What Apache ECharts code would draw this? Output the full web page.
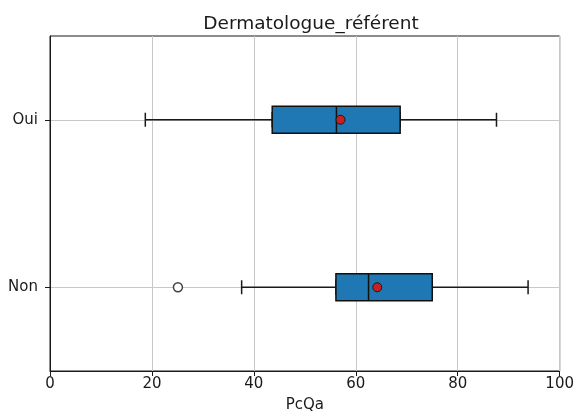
<!DOCTYPE html>
<html>
<head>
<meta charset="utf-8">
<script src="https://cdn.jsdelivr.net/npm/echarts@6/dist/echarts.min.js"></script>
<style>
html,body{margin:0;padding:0;background:#fff;}
#c{width:577px;height:419px;}
</style>
</head>
<body>
<div id="c"></div>
<script>
var categories = ['Non', 'Oui'];
var minVals = [37.6, 18.7];
var q1Vals = [56.1, 43.6];
var medianVals = [62.5, 56.2];
var q3Vals = [75.0, 68.7];
var maxVals = [93.8, 87.6];
var meanVals = [64.2, 57.0];
var outlierCats = ['Non'];
var outlierVals = [25.1];
var xTicks = [0, 20, 40, 60, 80, 100];

var FONT = 'DejaVu Sans';
var chart = echarts.init(document.getElementById('c'), null, {renderer: 'canvas'});

var whiskerData = categories.map(function (c, i) {
  return [minVals[i], q1Vals[i], medianVals[i], q3Vals[i], maxVals[i]];
});
var boxData = categories.map(function (c, i) {
  return [q1Vals[i], q1Vals[i], medianVals[i], q3Vals[i], q3Vals[i]];
});
var meanData = categories.map(function (c, i) { return [meanVals[i], c]; });
var outlierData = outlierCats.map(function (c, i) { return [outlierVals[i], c]; });

var option = {
  animation: false,
  backgroundColor: '#fff',
  title: {
    text: 'Dermatologue_référent',
    left: 306, textAlign: 'center', top: 10,
    textStyle: {fontFamily: FONT, fontSize: 18.5, fontWeight: 'normal', color: '#1a1a1a'}
  },
  grid: {left: 50, right: 12, top: 36, bottom: 48, show: true, borderColor: '#1a1a1a', borderWidth: 1, backgroundColor: 'transparent'},
  xAxis: {
    type: 'value', min: xTicks[0], max: xTicks[xTicks.length - 1], interval: xTicks[1] - xTicks[0],
    name: 'PcQa', nameLocation: 'middle', nameGap: 27,
    nameTextStyle: {fontFamily: FONT, fontSize: 15, color: '#1a1a1a'},
    axisLine: {show: true, lineStyle: {color: '#1a1a1a', width: 1}},
    axisTick: {show: true, length: 5, lineStyle: {color: '#1a1a1a'}},
    axisLabel: {fontFamily: FONT, fontSize: 15, color: '#1a1a1a', margin: 6},
    splitLine: {show: true, lineStyle: {color: '#c8c8c8', width: 1}}
  },
  yAxis: [{
    type: 'category', data: categories,
    axisLine: {show: true, lineStyle: {color: '#1a1a1a', width: 1}},
    axisTick: {show: true, length: 5, alignWithLabel: true, lineStyle: {color: '#1a1a1a'}},
    axisLabel: {fontFamily: FONT, fontSize: 15, color: '#1a1a1a', margin: 12},
    splitLine: {show: true, alignWithLabel: true, lineStyle: {color: '#c8c8c8', width: 1}}
  }, {
    type: 'category', data: categories, show: false, position: 'left'
  }],
  series: [{
    type: 'boxplot', yAxisIndex: 0, data: whiskerData, boxWidth: [14, 14],
    itemStyle: {color: 'rgba(0,0,0,0)', borderColor: '#1a1a1a', borderWidth: 1.5},
    emphasis: {disabled: true}, z: 2
  }, {
    type: 'boxplot', yAxisIndex: 1, data: boxData, boxWidth: [27, 27],
    itemStyle: {color: '#1f77b4', borderColor: '#111', borderWidth: 1.5},
    emphasis: {disabled: true}, z: 3
  }, {
    type: 'scatter', yAxisIndex: 0, data: meanData, symbol: 'circle', symbolSize: 9,
    itemStyle: {color: '#c62020', borderColor: '#1a1a1a', borderWidth: 1, opacity: 1},
    emphasis: {disabled: true}, z: 5
  }, {
    type: 'scatter', yAxisIndex: 0, data: outlierData, symbol: 'circle', symbolSize: 9,
    itemStyle: {color: '#fff', borderColor: '#444', borderWidth: 1.5, opacity: 1},
    emphasis: {disabled: true}, z: 5
  }]
};
chart.setOption(option);
</script>
</body>
</html>
